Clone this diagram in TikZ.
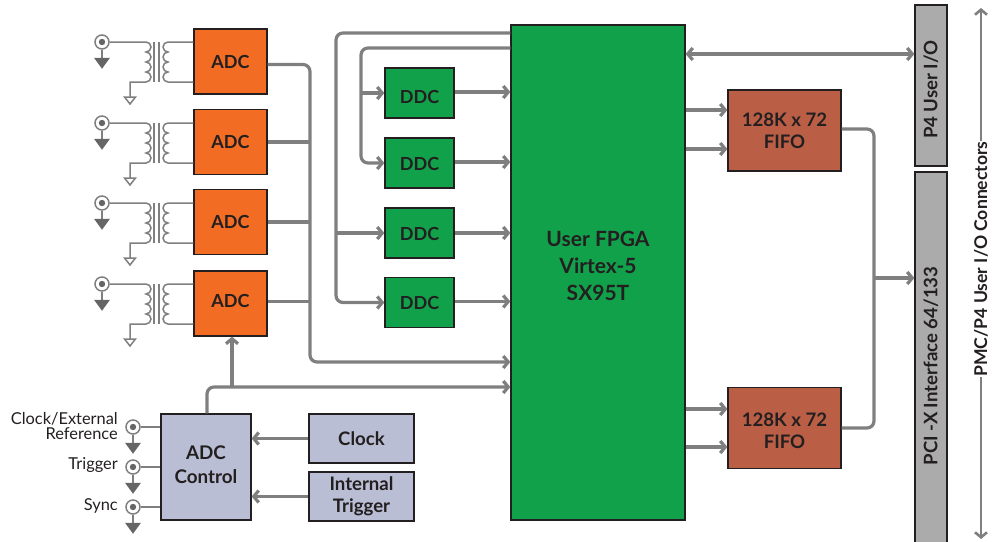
\documentclass[tikz,border=0pt]{standalone}
\usepackage{fontspec}
\setmainfont{Lato}
\usetikzlibrary{arrows.meta, positioning, calc}
\definecolor{myWire}{HTML}{7F7F7F}
\definecolor{myInk}{HTML}{231F20}
\definecolor{myOrange}{HTML}{F26D23}
\definecolor{myGreen}{HTML}{12A14B}
\definecolor{myBrick}{HTML}{BA5F46}
\definecolor{myLilac}{HTML}{BABED4}
\definecolor{myGray}{HTML}{ABABAB}
\tikzset{
box/.style={
draw=myInk,
line width=1.3pt,
align=center,
text=myInk,
inner sep=0pt,
font=\fontsize{18.6}{22}\selectfont\bfseries
},
adcbox/.style={box, fill=myOrange, minimum width=73pt, minimum height=65pt, font=\fontsize{18}{22}\selectfont\bfseries},
ddcbox/.style={box, fill=myGreen, minimum width=69pt, minimum height=50pt, font=\fontsize{18}{22}\selectfont\bfseries, text height=16pt},
fifobox/.style={box, fill=myBrick, minimum width=113pt, minimum height=81pt},
ctrlbox/.style={box, fill=myLilac, minimum width=105pt, minimum height=49pt},
portbox/.style={box, fill=myGray, minimum width=32pt},
bus/.style={myWire, line width=3.2pt},
arrow/.style={bus, -{Straight Barb[length=5pt,width=12pt]}},
thin/.style={myWire, line width=1.5pt},
jack/.style={circle, draw=myWire, fill=white, line width=1.5pt, minimum size=14pt, inner sep=0pt,
path picture={\fill[myWire!80!black] (path picture bounding box.center) circle (3.2pt);}},
sig/.style={font=\fontsize{16.4}{15}\selectfont, text=myInk, align=right, anchor=east, inner sep=0pt},
groundfull/.pic={
\draw[thin] (0,0) -- (0,9);
\fill[myWire!80!black] (-8,8) -- (8,8) -- (0,19) -- cycle;
},
groundopen/.pic={
\draw[thin, fill=white] (-5.5,0) -- (5.5,0) -- (0,7) -- cycle;
}
}

\begin{document}
\begin{tikzpicture}[x=1pt, y=-1pt]
\clip (0,0) rectangle (996,541);

% main blocks
\node[box, fill=myGreen, minimum width=174pt, minimum height=495pt, font=\fontsize{21}{27}\selectfont\bfseries, text height=57pt] (fpga) at (598,272.5)
{User FPGA\\Virtex-5\\SX95T};

\node[adcbox, text height=15pt] (adc1) at (230.5,61.5) {ADC};
\node[adcbox] (adc2) at (230.5,142) {ADC};
\node[adcbox] (adc3) at (230.5,222) {ADC};
\node[adcbox, text height=9pt] (adc4) at (230.5,303.5) {ADC};

\node[ddcbox, text height=22pt] (ddc1) at (419.5,93) {DDC};
\node[ddcbox] (ddc2) at (419.5,163) {DDC};
\node[ddcbox] (ddc3) at (419.5,233) {DDC};
\node[ddcbox, text height=14pt] (ddc4) at (419.5,302.5) {DDC};

\node[fifobox] (fifo1) at (784.5,130.5) {128K x 72\\FIFO};
\node[fifobox, text height=41pt] (fifo2) at (784.5,428) {128K x 72\\FIFO};

\node[box, fill=myLilac, minimum width=90pt, minimum height=106pt, font=\fontsize{18.8}{24}\selectfont\bfseries, text height=34pt] (ctrl) at (206,467) {ADC\\Control};
\node[ctrlbox] (clock) at (361.5,438.5) {Clock};
\node[ctrlbox] (itrig) at (361.5,496.5) {Internal\\Trigger};

\node[portbox, rotate=90, minimum width=161pt, minimum height=32pt] (p4) at (931,85.5) {P4 User I/O\hspace*{8pt}};
\node[portbox, rotate=90, minimum width=388pt, minimum height=32pt] (pci) at (931,366) {PCI -X Interface 64/133};

% transformers in front of the ADCs
\foreach \n/\y in {1/42, 2/123, 3/203, 4/284} {
\node[jack] (jack\n) at (102,\y) {};
\pic at (jack\n.south) {groundfull};
\draw[thin] (jack\n) -- (146,\y) arc (90:-90:5pt) arc (90:-90:5pt) arc (90:-90:5pt) arc (90:-90:5pt)
 -- (130,\y+40) -- (130,\y+55);
\pic at (130,\y+55) {groundopen};
\draw[thin] (154,\y) -- (154,\y+40) (159,\y) -- (159,\y+40);
\draw[thin] (adc\n.west |- 0,\y) -- (168,\y) arc (90:270:5pt) arc (90:270:5pt) arc (90:270:5pt) arc (90:270:5pt)
 -- (adc\n.west |- 0,\y+40);
}

% ADC outputs
\coordinate (busin) at (310,362);
\draw[arrow, rounded corners=7pt] ([yshift=-3pt]adc1.east) -| (busin) -- (fpga.west |- busin);
\draw[bus] (adc2.east) -- (adc2.east -| busin);
\draw[bus] (adc3.east) -- (adc3.east -| busin);
\draw[bus] ([yshift=2pt]adc4.east) -- ([yshift=2pt]adc4.east -| busin);

% FPGA to the DDCs
\coordinate (outa) at (336,33);
\coordinate (outb) at (361,48);
\draw[arrow, rounded corners=7pt] (fpga.west |- outa) -- (outa) |- (ddc4.west);
\draw[arrow] (ddc3.west -| outa) -- (ddc3.west);
\draw[arrow, rounded corners=7pt] (fpga.west |- outb) -- (outb) |- (ddc2.west);
\draw[arrow] (ddc1.west -| outb) -- (ddc1.west);
\foreach \n/\t in {1/1, 2/1, 3/0, 4/1} {
\draw[arrow] ([yshift=\t pt]ddc\n.east) -- ([yshift=\t pt]ddc\n.east -| fpga.west);
}

% ADC control
\coordinate (ctlup) at (207,387);
\draw[arrow, rounded corners=7pt] (ctrl.north -| ctlup) -- (ctlup) -- (fpga.west |- ctlup);
\coordinate (adcup) at (232,387);
\draw[arrow] (adcup) -- (adcup |- adc4.south);
\draw[arrow] (clock.west) -- (ctrl.east |- clock.west);
\draw[arrow] (itrig.west) -- (ctrl.east |- itrig.west);

\foreach \n/\y in {a/427, b/467, c/507} {
\node[jack] (sig\n) at (133,\y) {};
\pic at (sig\n.south) {groundfull};
\draw[thin] (sig\n) -- (ctrl.west |- sig\n);
}
\node[sig] (lblclock) at (118,426.5) {Clock/External\\Reference};
\node[sig] (lbltrig) at (118,465) {Trigger};
\node[sig] (lblsync) at (118,506) {Sync};

% FIFOs
\foreach \y/\n in {110/1, 149/1, 409/2, 447/2} {
\draw[arrow] (fpga.east |- 0,\y) -- (fifo\n.west |- 0,\y);
}
\coordinate (merge) at (874,278);
\draw[bus, rounded corners=7pt] ([yshift=1.5pt]fifo1.east) -| (merge) |- (fifo2.east);
\draw[arrow] (merge) -- (merge -| pci.north);
\draw[arrow, {Straight Barb[length=5pt,width=12pt]}-{Straight Barb[length=5pt,width=12pt]}] (fpga.east |- 0,54) -- (p4.north |- 0,54);

% connector span at the far right
\node[font=\fontsize{17.6}{18}\selectfont\bfseries, text=myInk, rotate=90, inner sep=0pt] (span) at (981,259) {PMC/P4 User I/O Connectors};
\coordinate (spantop) at (981,8);
\coordinate (spanbot) at (981,539);
\draw[myWire, line width=2.6pt, -{Straight Barb[length=5pt,width=12pt]}] (span.east) -- (spantop);
\draw[myWire, line width=2.6pt, -{Straight Barb[length=5pt,width=12pt]}] (span.west) -- (spanbot);

\end{tikzpicture}
\end{document}
